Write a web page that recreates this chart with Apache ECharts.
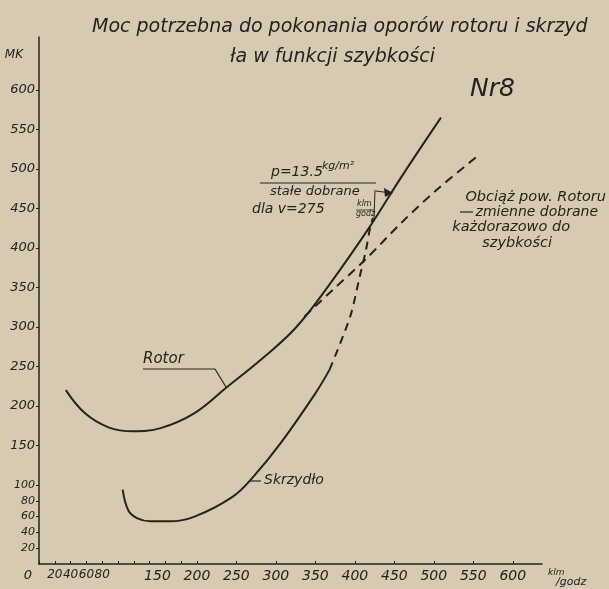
<!DOCTYPE html>
<html>
<head>
<meta charset="utf-8">
<script src="https://cdn.jsdelivr.net/npm/echarts@6/dist/echarts.min.js"></script>
<style>
html,body{margin:0;padding:0;background:#d7cab3;}
#c{width:609px;height:589px;}
</style>
</head>
<body>
<div id="c"></div>
<script>
// speed [km/h] and power [KM]
const rotorX = [34, 58, 88, 119, 154, 197, 237, 285, 326, 368, 419, 459, 509];
const rotorY = [220, 191, 173, 168, 172, 191, 223, 262, 300, 354, 427, 490, 565];

const wingX = [106, 113, 124, 141, 166, 197, 245, 271, 306, 350, 368];
const wingY = [94, 68, 58, 54, 54, 60, 85, 110, 153, 216, 246];

const wingDashX = [368, 394, 406, 414, 420, 423];
const wingDashY = [246, 313, 363, 397, 429, 438];

const rotorVarX = [336, 372, 413, 459, 503, 555];
const rotorVarY = [313, 347, 385, 432, 473, 516];

const xLabelValues = [0, 20, 40, 60, 80, 150, 200, 250, 300, 350, 400, 450, 500, 550, 600];
const xTickValues = [0, 20, 40, 60, 80, 100, 120, 140, 160, 180, 200, 250, 300, 350, 400, 450, 500, 550, 600];
const yLabelValues = [20, 40, 60, 80, 100, 150, 200, 250, 300, 350, 400, 450, 500, 550, 600];

const ink = '#26221e';
const font = 'DejaVu Sans';

function pairs(xs, ys) { return xs.map((x, i) => [x, ys[i]]); }

const chart = echarts.init(document.getElementById('c'), null, {renderer: 'canvas'});

function txt(x, y, s, size, align) {
  return {
    type: 'text', x: x, y: y,
    style: {text: s, fill: ink, font: 'italic ' + size + 'px "' + font + '"', align: align || 'left'}
  };
}
function ln(x1, y1, x2, y2, w) {
  return {type: 'line', shape: {x1: x1, y1: y1, x2: x2, y2: y2}, style: {stroke: ink, lineWidth: w || 1}};
}

const option = {
  backgroundColor: '#d7cab3',
  animation: false,
  grid: {left: 39, right: 67, top: 37, bottom: 25, containLabel: false},
  xAxis: {
    type: 'value', min: 0, max: 637,
    axisLine: {lineStyle: {color: ink, width: 1.5}},
    splitLine: {show: false},
    axisTick: {customValues: xTickValues, inside: true, length: 3, lineStyle: {color: ink}},
    axisLabel: {
      customValues: xLabelValues,
      color: ink, fontFamily: font, fontStyle: 'italic', fontSize: 14, margin: 5,
      formatter: function (v) {
        if (v === 0) return '{z|0}';
        if (v < 100) return '{s|' + v + '}';
        return String(v);
      },
      rich: {
        z: {fontFamily: font, fontStyle: 'italic', fontSize: 13, color: ink, padding: [0, 22, 0, 0]},
        s: {fontFamily: font, fontStyle: 'italic', fontSize: 12, color: ink}
      }
    },
    name: '{a|klm}\n{b|/godz}',
    nameLocation: 'end', nameGap: 6,
    nameTextStyle: {
      align: 'left', verticalAlign: 'top', padding: [4, 0, 0, 0],
      rich: {
        a: {fontFamily: font, fontStyle: 'italic', fontSize: 9, color: ink, lineHeight: 9},
        b: {fontFamily: font, fontStyle: 'italic', fontSize: 11, color: ink, lineHeight: 11, padding: [0, 0, 0, 8]}
      }
    }
  },
  yAxis: {
    type: 'value', min: 0, max: 667,
    axisLine: {show: true, lineStyle: {color: ink, width: 1.5}},
    splitLine: {show: false},
    axisTick: {show: true, customValues: yLabelValues, length: 3, lineStyle: {color: ink}},
    axisLabel: {
      customValues: yLabelValues,
      color: ink, fontFamily: font, fontStyle: 'italic', fontSize: 13, margin: 4,
      formatter: function (v) { return v < 150 ? '{s|' + v + '}' : String(v); },
      rich: {s: {fontFamily: font, fontStyle: 'italic', fontSize: 11, color: ink}}
    },
    name: 'MK', nameLocation: 'end', nameGap: -24,
    nameTextStyle: {color: ink, fontFamily: font, fontStyle: 'italic', fontSize: 12, align: 'right', padding: [0, 16, 0, 0]}
  },
  series: [
    {name: 'Rotor', type: 'line', data: pairs(rotorX, rotorY), smooth: 0.4, symbol: 'none',
     lineStyle: {color: ink, width: 2}},
    {name: 'Skrzydło', type: 'line', data: pairs(wingX, wingY), smooth: 0.4, symbol: 'none',
     lineStyle: {color: ink, width: 2}},
    {name: 'Skrzydło (przedłużenie)', type: 'line', data: pairs(wingDashX, wingDashY), smooth: 0.3, symbol: 'none',
     lineStyle: {color: ink, width: 2, type: [8, 6]}},
    {name: 'Rotor – obciążenie zmienne', type: 'line', data: pairs(rotorVarX, rotorVarY), smooth: 0.3, symbol: 'none',
     lineStyle: {color: ink, width: 2, type: [9, 6]}}
  ],
  graphic: [
    txt(92, 18, 'Moc potrzebna do pokonania oporów rotoru i skrzyd', 19),
    txt(230, 48, 'ła w funkcji szybkości', 19),
    txt(470, 77, 'Nr8', 25),
    // Rotor label
    txt(143, 352, 'Rotor', 15),
    ln(143, 369, 215, 369, 1), ln(215, 369, 226, 387, 1.2),
    // Skrzydło label
    txt(264, 473, 'Skrzydło', 14),
    ln(250, 481, 261, 481, 1.2),
    // p = 13.5 annotation
    txt(271, 165, 'p=13.5', 14),
    txt(322, 161, 'kg/m²', 11),
    ln(260, 183, 376, 183, 1),
    txt(270, 185, 'stałe dobrane', 13),
    txt(252, 202, 'dla v=275', 14),
    txt(357, 200, 'klm', 8),
    ln(356, 210, 374, 210, 0.8),
    txt(356, 210, 'godz', 8),
    ln(376, 191, 391, 193, 1.2),
    {type: 'polygon', shape: {points: [[393, 193], [384, 188], [385, 197]]}, style: {fill: ink}},
    ln(375, 190, 374, 218, 1),
    // Obciąż annotation
    txt(606, 190, 'Obciąż pow. Rotoru', 14.5, 'right'),
    ln(460, 212, 473, 212, 1.2),
    txt(598, 205, 'zmienne dobrane', 14, 'right'),
    txt(570, 220, 'każdorazowo do', 14.5, 'right'),
    txt(552, 236, 'szybkości', 14.5, 'right')
  ]
};
chart.setOption(option);
</script>
</body>
</html>
